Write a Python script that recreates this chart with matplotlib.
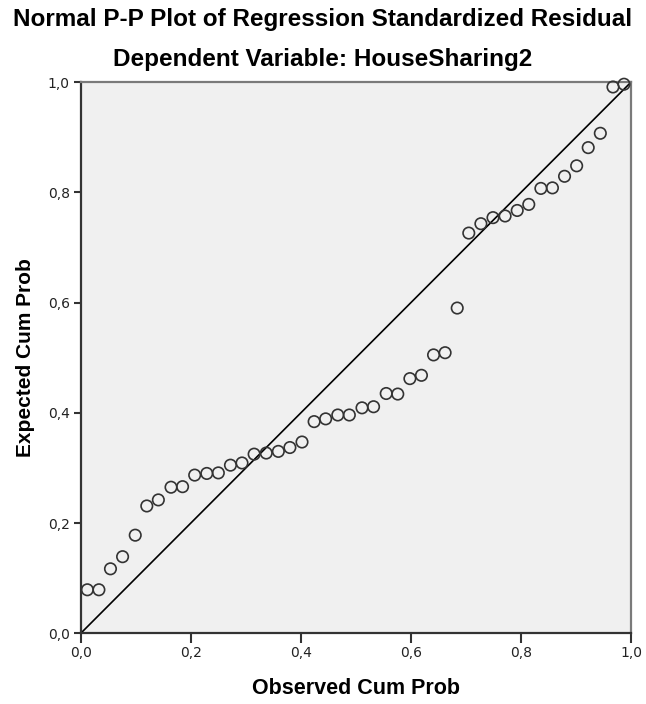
import matplotlib
matplotlib.use("Agg")
import matplotlib.pyplot as plt
from matplotlib.ticker import FuncFormatter

# -------------------------------
# Data
# -------------------------------
observed = [0.012, 0.033, 0.054, 0.076, 0.099, 0.120, 0.141, 0.164, 0.185, 0.207,
            0.229, 0.250, 0.272, 0.293, 0.315, 0.337, 0.359, 0.380, 0.402, 0.424,
            0.445, 0.467, 0.488, 0.511, 0.532, 0.555, 0.576, 0.598, 0.619, 0.641,
            0.662, 0.684, 0.705, 0.727, 0.749, 0.771, 0.793, 0.814, 0.836, 0.857,
            0.879, 0.901, 0.922, 0.944, 0.967, 0.987]
expected = [0.079, 0.079, 0.117, 0.139, 0.178, 0.231, 0.242, 0.265, 0.266, 0.287,
            0.290, 0.291, 0.305, 0.309, 0.325, 0.327, 0.330, 0.337, 0.347, 0.384,
            0.389, 0.396, 0.396, 0.409, 0.411, 0.435, 0.434, 0.462, 0.468, 0.505,
            0.509, 0.590, 0.726, 0.743, 0.754, 0.757, 0.767, 0.778, 0.807, 0.808,
            0.829, 0.848, 0.881, 0.907, 0.991, 0.996]
ticks = [0.0, 0.2, 0.4, 0.6, 0.8, 1.0]

plt.rcParams["font.family"] = ["Liberation Sans", "DejaVu Sans"]

fig = plt.figure(figsize=(6.46, 7.04), dpi=100)
ax = fig.add_axes([0.125, 0.1004, 0.852, 0.7831])

ax.set_facecolor("#F0F0F0")
ax.plot([0, 1], [0, 1], color="black", linewidth=1.2, zorder=2)
ax.scatter(observed, expected, s=68, facecolors="none", edgecolors="#333333",
           linewidths=1.2, zorder=3, clip_on=False)

ax.set_xlim(0, 1)
ax.set_ylim(0, 1)
ax.set_xticks(ticks)
ax.set_yticks(ticks)
comma = FuncFormatter(lambda v, p: f"{v:.1f}".replace(".", ","))
ax.xaxis.set_major_formatter(comma)
ax.yaxis.set_major_formatter(comma)
ax.tick_params(direction="out", width=1.5, color="#333333",
               labelsize=10, labelcolor="#222222")
ax.tick_params(axis="x", length=7, pad=2)
ax.tick_params(axis="y", length=5, pad=3)
for lab in ax.get_xticklabels() + ax.get_yticklabels():
    lab.set_family("DejaVu Sans")

for side in ["left", "bottom"]:
    ax.spines[side].set_color("#333333")
    ax.spines[side].set_linewidth(1.6)
for side in ["top", "right"]:
    ax.spines[side].set_color("#7a7a7a")
    ax.spines[side].set_linewidth(1.6)

ax.set_xlabel("Observed Cum Prob", fontsize=15.5, fontweight="bold", labelpad=13)
ax.set_ylabel("Expected Cum Prob", fontsize=15, fontweight="bold", labelpad=9)

fig.text(0.5, 1 - 26 / 704, "Normal P-P Plot of Regression Standardized Residual",
         ha="center", va="baseline", fontsize=17.5, fontweight="bold")
fig.text(0.5, 1 - 66 / 704, "Dependent Variable: HouseSharing2",
         ha="center", va="baseline", fontsize=17.5, fontweight="bold")

fig.savefig("out.png", dpi=100)
